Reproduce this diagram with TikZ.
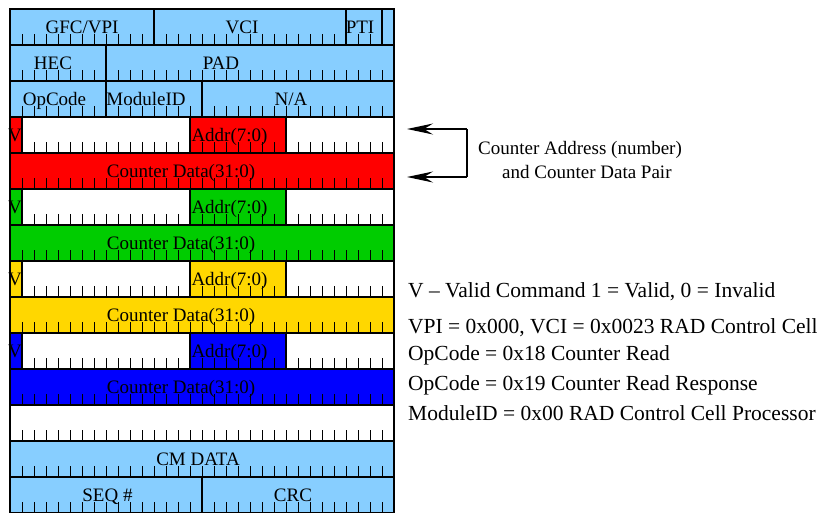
\documentclass[tikz,border=0pt]{standalone}
\usepackage{fontspec}
\setmainfont{Liberation Serif}
\usetikzlibrary{arrows.meta}

\definecolor{ltblue}{HTML}{87CEFF}
\definecolor{cellred}{HTML}{FF0000}
\definecolor{cellgreen}{HTML}{00CC00}
\definecolor{cellgold}{HTML}{FFD700}
\definecolor{cellblue}{HTML}{0000FF}

\tikzset{
  fieldbox/.style={draw=black, line width=1.3pt},
  rowline/.style={draw=black, line width=2pt},
  tickmark/.style={draw=black, line width=0.9pt},
  celltext/.style={anchor=base, inner sep=0pt, font=\fontsize{19}{22}\selectfont},
  notetext/.style={anchor=base west, inner sep=0pt, font=\fontsize{21.5}{24}\selectfont},
  pairtext/.style={anchor=base west, inner sep=0pt, font=\fontsize{19}{22}\selectfont},
  bracket/.style={draw=black, line width=1.2pt},
  pairarrow/.style={bracket, -{Stealth[length=26pt, width=11pt, inset=9pt]}}
}

% one field: first bit, last bit + 1, row, fill colour (bit/row units)
\newcommand\cellfield[4]{\path[fieldbox, fill=#4] (#1,#3) rectangle (#2,#3+1);}

\begin{document}
\begin{tikzpicture}[x=1pt, y=-1pt]
\clip (0,0) rectangle (817,512);
\fill[white] (0,0) rectangle (817,512);

% ---- cell layout, 32 bits per row, 12pt per bit, 36pt per row ----
\begin{scope}[shift={(10,9)}, x=12pt, y=-36pt]
  % header words
  \cellfield{0}{12}{0}{ltblue}
  \cellfield{12}{28}{0}{ltblue}
  \cellfield{28}{31}{0}{ltblue}
  \cellfield{31}{32}{0}{ltblue}
  \cellfield{0}{8}{1}{ltblue}
  \cellfield{8}{32}{1}{ltblue}
  \cellfield{0}{8}{2}{ltblue}
  \cellfield{8}{16}{2}{ltblue}
  \cellfield{16}{32}{2}{ltblue}
  % four address / data pairs
  \foreach \r/\c in {3/cellred, 5/cellgreen, 7/cellgold, 9/cellblue}{
    \cellfield{0}{1}{\r}{\c}
    \cellfield{1}{15}{\r}{white}
    \cellfield{15}{23}{\r}{\c}
    \cellfield{23}{32}{\r}{white}
    \pgfmathtruncatemacro\rr{\r+1}
    \cellfield{0}{32}{\rr}{\c}
  }
  % trailer words
  \cellfield{0}{32}{11}{white}
  \cellfield{0}{32}{12}{ltblue}
  \cellfield{0}{16}{13}{ltblue}
  \cellfield{16}{32}{13}{ltblue}
  % bit ticks along the foot of every row
  \foreach \r in {1,...,14}{
    \foreach \k in {1,...,31}{
      \draw[tickmark] (\k,\r) -- ++(0pt,11pt);
    }
  }
  % row separators and frame
  \foreach \r in {0,...,14}{
    \draw[rowline] (0,\r) -- (32,\r);
  }
  \draw[rowline] (0,0) -- (0,14);
  \draw[rowline] (32,0) -- (32,14);
\end{scope}

% ---- field labels ----
\node[celltext] (gfc)   at (82,33)    {GFC/VPI};
\node[celltext] (vci)   at (242,33)   {VCI};
\node[celltext] (pti)   at (360,33)   {PTI};
\node[celltext] (hec)   at (53,69)    {HEC};
\node[celltext] (pad)   at (221,69)   {PAD};
\node[celltext] (opc)   at (54.5,105) {OpCode};
\node[celltext] (mid)   at (146,105)  {ModuleID};
\node[celltext] (na)    at (291,105)  {N/A};
\foreach \n/\y in {a/141, b/213, c/285, d/357}{
  \node[celltext] (valid\n) at (15,\y)    {V};
  \node[celltext] (addr\n)  at (229.5,\y) {Addr(7:0)};
  \node[celltext] (data\n)  at (181,\y+36) {Counter Data(31:0)};
}
\node[celltext] (cmdata) at (198,465)   {CM DATA};
\node[celltext] (seq)    at (107.5,501) {SEQ \#};
\node[celltext] (crc)    at (293,501)   {CRC};

% ---- address / data pair bracket ----
\coordinate (addrtip) at (407,129);
\coordinate (datatip) at (407,177);
\coordinate (brtop)   at (467,129);
\coordinate (brbot)   at (467,177);
\draw[bracket] (brtop) -- (brbot);
\draw[pairarrow] (brtop) -- (addrtip);
\draw[pairarrow] (brbot) -- (datatip);
\node[pairtext] (pair1) at (478,154) {Counter Address (number)};
\node[pairtext] (pair2) at (502,178) {and Counter Data Pair};

% ---- notes ----
\node[notetext] (note1) at (408,297) {V \textendash{} Valid Command 1 = Valid, 0 = Invalid};
\node[notetext] (note2) at (408,333) {VPI = 0x000, VCI = 0x0023 RAD Control Cell};
\node[notetext] (note3) at (408,360) {OpCode = 0x18 Counter Read};
\node[notetext] (note4) at (408,390) {OpCode = 0x19 Counter Read Response};
\node[notetext] (note5) at (408,420) {ModuleID = 0x00 RAD Control Cell Processor};
\end{tikzpicture}
\end{document}
